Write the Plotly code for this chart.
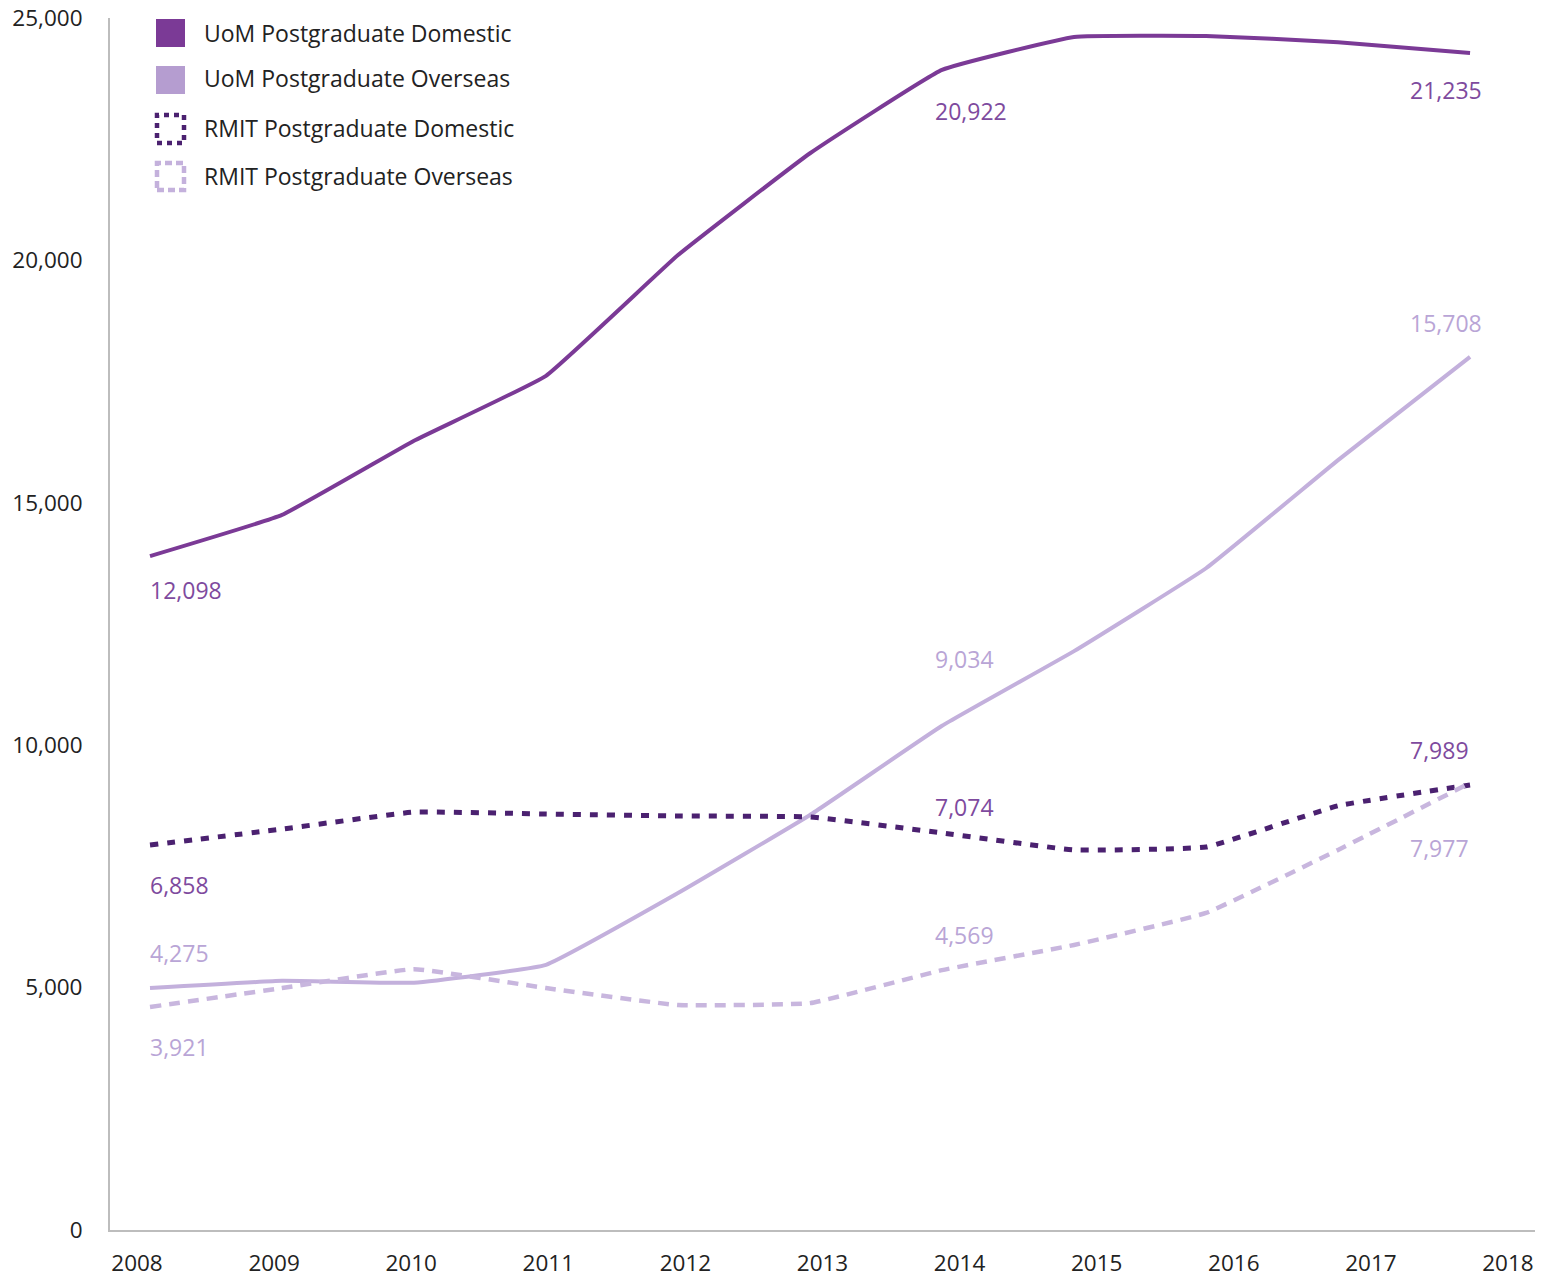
import plotly.graph_objects as go

years = [2008, 2009, 2010, 2011, 2012, 2013, 2014, 2015, 2016, 2017, 2018]
tick_years = [2008, 2009, 2010, 2011, 2012, 2013, 2014, 2015, 2016, 2017, 2018]
y_ticks = [0, 5000, 10000, 15000, 20000, 25000]

uom_domestic = [13900, 14750, 16280, 17620, 20110, 22210, 23930, 24610, 24630, 24500, 24280]
uom_overseas = [4990, 5140, 5100, 5470, 6950, 8560, 10400, 11940, 13650, 15880, 18010]
rmit_domestic = [7940, 8270, 8620, 8580, 8540, 8520, 8190, 7840, 7900, 8750, 9180]
rmit_overseas = [4600, 4990, 5380, 4990, 4640, 4680, 5360, 5880, 6540, 7840, 9220]

series_names = ["UoM Postgraduate Domestic", "UoM Postgraduate Overseas",
                "RMIT Postgraduate Domestic", "RMIT Postgraduate Overseas"]

# value labels: (series index, year, text)
label_series = [0, 0, 0, 1, 1, 1, 2, 2, 2, 3, 3, 3]
label_years = [2008, 2014, 2018, 2008, 2014, 2018, 2008, 2014, 2018, 2008, 2014, 2018]
label_texts = ["12,098", "20,922", "21,235", "4,275", "9,034", "15,708",
               "6,858", "7,074", "7,989", "3,921", "4,569", "7,977"]

DARK = "#7b3a96"
LIGHT = "#c3b0dc"
RMIT_DARK = "#4b2170"
RMIT_LIGHT = "#c8b6de"
LBL_DARK = "#7e4a9e"
LBL_LIGHT = "#b9a5d6"
FONT = "Open Sans"
FS = 23
TICK_FS = 22.5

OFF = 8  # page body margin
W, H = 1556 - OFF, 1279 - OFF
L, R, T, B = 110 - OFF, 1535 - OFF, 18 - OFF, 1230 - OFF

fig = go.Figure()
# carrier trace so the labelled x axis is drawn
fig.add_trace(go.Scatter(x=tick_years, y=[None] * len(tick_years), mode="lines",
                         xaxis="x", yaxis="y", showlegend=False, hoverinfo="skip"))

all_series = [uom_domestic, uom_overseas, rmit_domestic, rmit_overseas]
styles = [
    dict(color=DARK, width=4, dash="solid"),
    dict(color=LIGHT, width=4, dash="solid"),
    dict(color=RMIT_DARK, width=5, dash="8px,9px"),
    dict(color=RMIT_LIGHT, width=4.5, dash="11px,8px"),
]
for name, vals, st in zip(series_names, all_series, styles):
    fig.add_trace(go.Scatter(x=years, y=vals, name=name, mode="lines",
                             line=dict(shape="spline", smoothing=0.3, **st),
                             xaxis="x2", yaxis="y", showlegend=False,
                             hoverinfo="skip"))

offsets = {  # (series, year): (xanchor, xshift, yshift)
    (0, 2008): ("left", -2, -34), (0, 2014): ("left", -9, -41), (0, 2018): ("right", 14, -37),
    (1, 2008): ("left", -2, 35), (1, 2014): ("left", -9, 67), (1, 2018): ("right", 14, 34),
    (2, 2008): ("left", -2, -40), (2, 2014): ("left", -9, 26), (2, 2018): ("right", 1, 35),
    (3, 2008): ("left", -2, -40), (3, 2014): ("left", -9, 35), (3, 2018): ("right", 1, -65),
}
for si, yr, txt in zip(label_series, label_years, label_texts):
    val = all_series[si][years.index(yr)]
    xa, xs, ys = offsets[(si, yr)]
    col = LBL_DARK if si in (0, 2) else LBL_LIGHT
    fig.add_annotation(x=yr, y=val, xref="x2", yref="y", text=txt, showarrow=False,
                       xanchor=xa, yanchor="middle", xshift=xs, yshift=ys,
                       font=dict(family=FONT, size=FS, color=col))

def px_x(p):
    return (p - OFF - L) / (R - L)

def px_y(p):
    return (B - (p - OFF)) / (B - T)

# custom legend
leg = [
    dict(y0=19, y1=47, fill=DARK, line=None),
    dict(y0=66, y1=94, fill="#b59dd0", line=None),
    dict(y0=115, y1=143, fill=None, line=dict(color=RMIT_DARK, width=4.5, dash="5px,5px")),
    dict(y0=163, y1=190, fill=None, line=dict(color="#c4b1dc", width=4.5, dash="7px,4px")),
]
text_y = [33, 78, 128, 176]
for item, name, ty in zip(leg, series_names, text_y):
    if item["fill"]:
        fig.add_shape(type="rect", xref="paper", yref="paper",
                      x0=px_x(156), x1=px_x(185), y0=px_y(item["y1"]), y1=px_y(item["y0"]),
                      fillcolor=item["fill"], line=dict(width=0))
    else:
        fig.add_shape(type="rect", xref="paper", yref="paper",
                      x0=px_x(157), x1=px_x(184), y0=px_y(item["y1"]), y1=px_y(item["y0"]),
                      fillcolor="rgba(0,0,0,0)", line=item["line"])
    fig.add_annotation(xref="paper", yref="paper", x=px_x(202), y=px_y(ty),
                       text=name, showarrow=False, xanchor="left", yanchor="middle",
                       font=dict(family=FONT, size=FS, color="#222"))

fig.update_layout(
    width=W, height=H,
    margin=dict(l=L, r=W - R, t=T, b=H - B, autoexpand=False),
    paper_bgcolor="white", plot_bgcolor="white",
    font=dict(family=FONT, size=FS, color="#222"),
    showlegend=False,
    xaxis=dict(range=[2007.803, 2018.197], tickmode="array", tickvals=tick_years,
               ticktext=[str(t) for t in tick_years], showgrid=False, zeroline=False,
               showline=True, linecolor="#bdbdbd", linewidth=2, ticks="",
               ticklabelstandoff=12, ticklabeloverflow="allow",
               tickfont=dict(family=FONT, size=TICK_FS, color="#222")),
    xaxis2=dict(range=[2007.697, 2018.492], overlaying="x", visible=False),
    yaxis=dict(range=[0, 25000], tickmode="array", tickvals=y_ticks,
               ticktext=[f"{v:,}" for v in y_ticks], showgrid=False, zeroline=False,
               showline=True, linecolor="#bdbdbd", linewidth=2, ticks="",
               ticklabelstandoff=21, ticklabeloverflow="allow",
               tickfont=dict(family=FONT, size=TICK_FS, color="#222")),
)

fig.write_html("out.html")
